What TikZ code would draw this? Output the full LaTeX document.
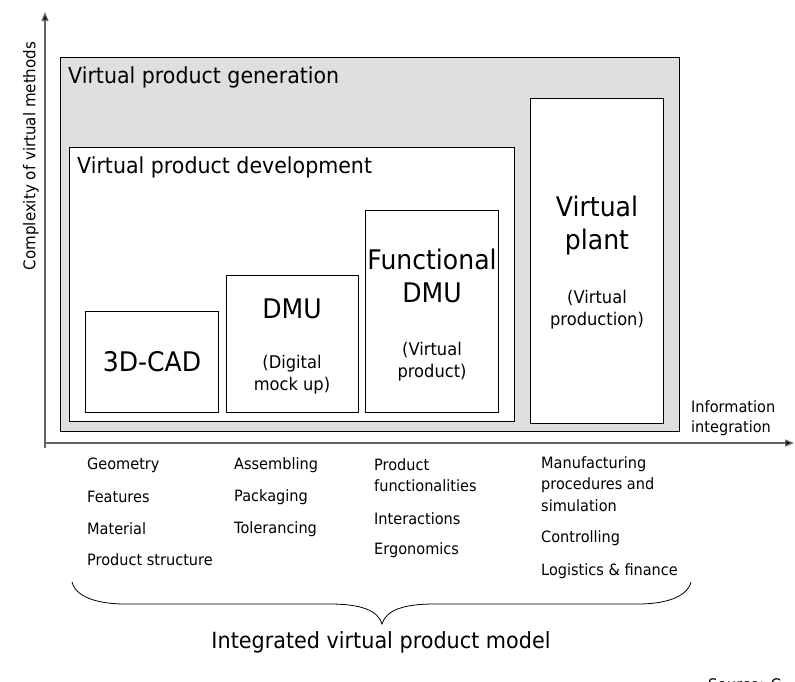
\documentclass[tikz,border=0pt]{standalone}
\usepackage{fontspec}
\setmainfont{DejaVu Sans}[FakeStretch=0.93]
\usetikzlibrary{arrows.meta}
\begin{document}
\begin{tikzpicture}[x=1pt,y=-1pt,
  axis/.style={draw=gray!80!black,line width=1.3pt,-{Triangle[length=9pt,width=7pt,fill=black]}},
  box/.style={draw=black,line width=0.9pt,fill=white},
  lab/.style={anchor=west,inner sep=0pt,font=\fontsize{15.6}{18}\selectfont},
  big/.style={align=center,inner sep=0pt,font=\fontsize{27}{33}\selectfont},
  small/.style={align=center,inner sep=0pt,font=\fontsize{17.5}{22}\selectfont}]
\useasboundingbox (0,0) rectangle (795,681);
% axes
\coordinate (o) at (45,448);
\coordinate (ytip) at (45,12);
\coordinate (xtip) at (794,443);
\coordinate (xs) at (45,443);
\draw[axis] (o) -- (ytip);
\draw[axis] (xs) -- (xtip);
\node[rotate=90,inner sep=0pt,font=\fontsize{16.2}{18}\selectfont] (ylab) at (31,156) {Complexity of virtual methods};
% outer box
\node[draw=black,line width=0.9pt,fill=gray!25,minimum width=619pt,minimum height=374pt,anchor=north west,inner sep=0pt] (gen) at (60,57) {};
\node[anchor=west,inner sep=0pt,font=\fontsize{22.1}{26}\selectfont] (genlab) at (68,77) {Virtual product generation};
\node[box,minimum width=445pt,minimum height=274pt,anchor=north west,inner sep=0pt] (dev) at (69,147) {};
\node[anchor=west,inner sep=0pt,font=\fontsize{22.1}{26}\selectfont] (devlab) at (77,167) {Virtual product development};
% boxes
\node[box,minimum width=133pt,minimum height=101pt,anchor=north west,inner sep=0pt] (cad) at (85,311) {};
\node[big] at (152,362) {3D-CAD};
\node[box,minimum width=132pt,minimum height=137pt,anchor=north west,inner sep=0pt] (dmu) at (226,275) {};
\node[big] (dmut) at (292,309) {DMU};
\node[small] (dmus) at (292,375) {(Digital\\mock up)};
\node[box,minimum width=133pt,minimum height=202pt,anchor=north west,inner sep=0pt] (fdmu) at (365,210) {};
\node[big] (fdmut) at (432,276) {Functional\\DMU};
\node[small] (fdmus) at (432,362) {(Virtual\\product)};
\node[box,minimum width=133pt,minimum height=325pt,anchor=north west,inner sep=0pt] (vp) at (530,98) {};
\node[big] (vpt) at (597,226) {Virtual\\plant};
\node[small] (vps) at (597,310) {(Virtual\\production)};
% info label
\node[lab,align=left,font=\fontsize{15.6}{20}\selectfont] (info) at (691,418) {Information\\integration};
% lists
\node[lab] at (87,465) {Geometry};
\node[lab] at (87,497) {Features};
\node[lab] at (87,529) {Material};
\node[lab] at (87,560) {Product structure};
\node[lab] at (234,465) {Assembling};
\node[lab] at (234,497) {Packaging};
\node[lab] at (234,529) {Tolerancing};
\node[lab] at (374,465) {Product};
\node[lab] at (374,486) {functionalities};
\node[lab] at (374,519) {Interactions};
\node[lab] at (374,550) {Ergonomics};
\node[lab] at (541,464) {Manufacturing};
\node[lab] at (541,485) {procedures and};
\node[lab] at (541,506) {simulation};
\node[lab] at (541,538) {Controlling};
\node[lab] at (541,571) {Logistics \& finance};
% brace
\coordinate (bl) at (72,582);
\coordinate (br) at (691,582);
\coordinate (bt) at (382,624);
\draw[line width=0.8pt] (bl) .. controls (76,598) and (100,604) .. (125,604) -- (330,604)
  .. controls (360,604) and (378,610) .. (bt)
  .. controls (386,610) and (404,604) .. (434,604) -- (638,604)
  .. controls (663,604) and (687,598) .. (br);
\node[inner sep=0pt,font=\fontsize{22.3}{26}\selectfont] (model) at (381,642) {Integrated virtual product model};
\node[anchor=west,inner sep=0pt,font=\fontsize{16}{20}\selectfont] (src) at (708,685) {Source: C};
\end{tikzpicture}
\end{document}
